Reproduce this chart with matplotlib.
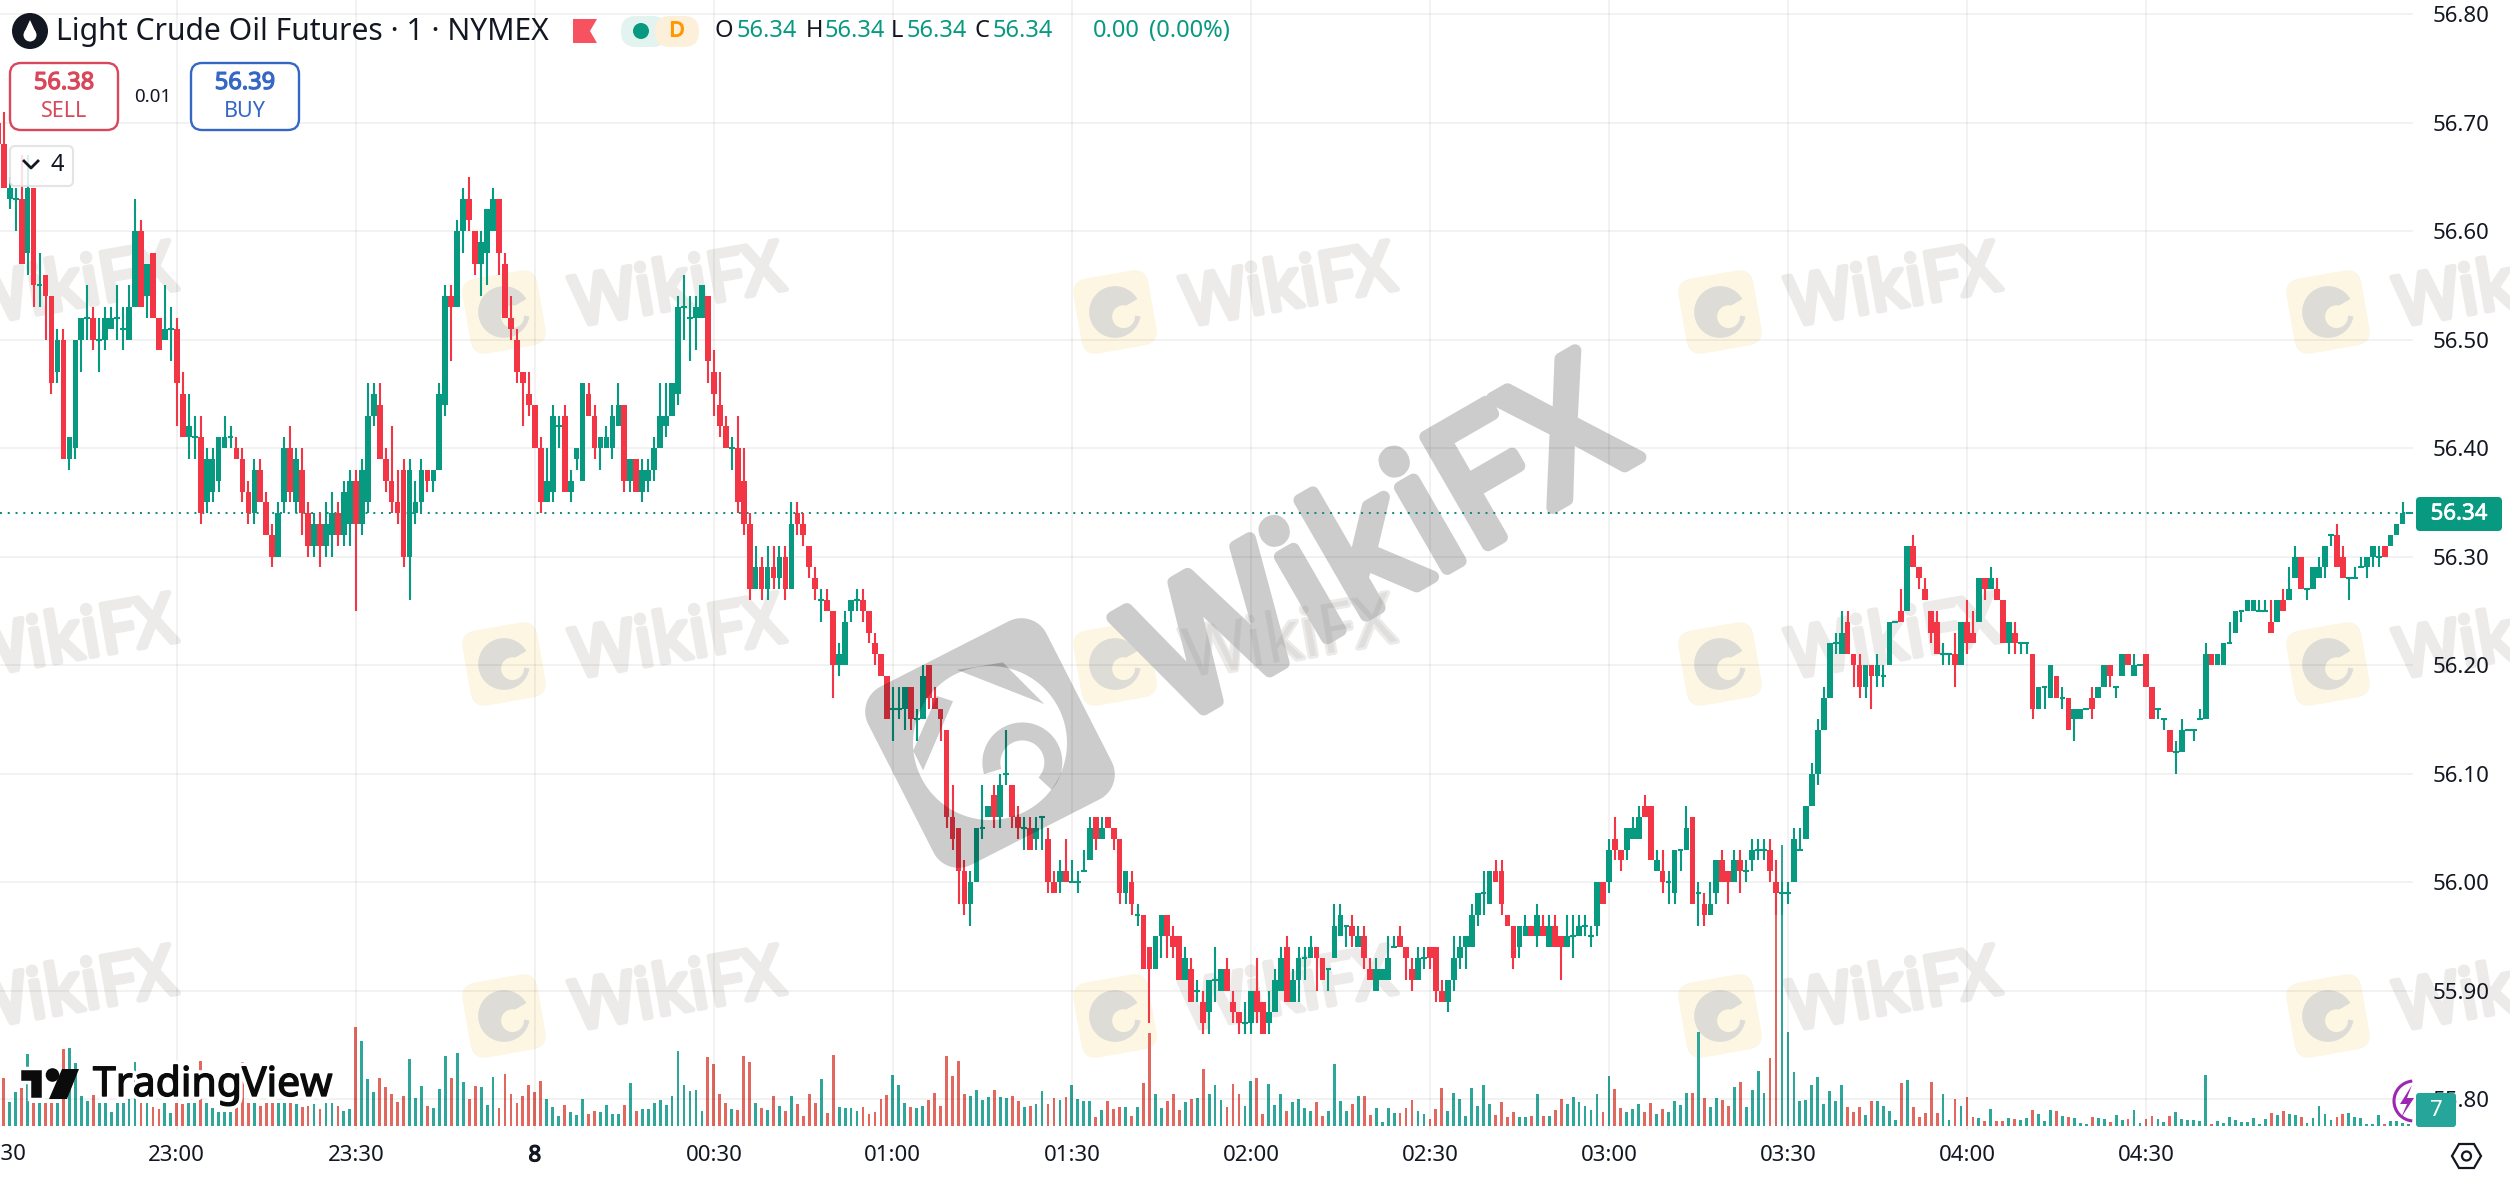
import matplotlib
matplotlib.use("Agg")
import matplotlib.pyplot as plt
import matplotlib.patheffects as pe
import numpy as np
from matplotlib.patches import Circle, FancyBboxPatch, PathPatch, Polygon, Wedge, Arc
from matplotlib.path import Path
from matplotlib.transforms import Affine2D

plt.rcParams["font.family"] = ["Noto Sans", "DejaVu Sans"]

# prices are cents above 55.00, one candle per minute from 22:30
opens = [
    170, 168, 163, 163, 163, 158, 164, 155, 156, 154, 147, 150, 139, 140, 150, 152, 152, 150, 150, 151,
    152, 151, 150, 153, 160, 154, 158, 152, 150, 151, 151, 145, 141, 141, 141, 135, 136, 137, 140, 141,
    140, 139, 136, 134, 138, 135, 132, 130, 135, 140, 135, 138, 134, 131, 133, 131, 132, 134, 132, 133,
    137, 133, 135, 143, 144, 139, 137, 135, 138, 130, 134, 135, 138, 137, 138, 144, 154, 153, 160, 163,
    160, 157, 158, 160, 163, 157, 152, 150, 147, 145, 144, 140, 135, 136, 142, 143, 136, 139, 137, 145,
    143, 140, 140, 140, 142, 144, 137, 139, 136, 137, 138, 140, 142, 143, 145, 153, 152, 152, 152, 154,
    147, 144, 142, 140, 140, 137, 133, 127, 129, 127, 129, 128, 130, 127, 134, 133, 131, 128, 126, 126,
    125, 120, 120, 125, 126, 126, 125, 122, 121, 119, 116, 116, 116, 118, 115, 115, 120, 117, 116, 114,
    106, 105, 101, 98, 100, 105, 106, 108, 106, 110, 109, 106, 105, 105, 104, 106, 104, 100, 100, 101,
    100, 100, 101, 102, 106, 104, 106, 105, 104, 99, 100, 97, 97, 94, 92, 95, 97, 95, 95, 91,
    92, 90, 89, 88, 91, 90, 92, 89, 88, 87, 87, 90, 89, 87, 88, 90, 94, 89, 91, 93,
    93, 94, 93, 92, 93, 95, 96, 96, 94, 95, 92, 90, 91, 91, 94, 95, 94, 92, 91, 93,
    94, 94, 90, 89, 91, 93, 94, 94, 97, 99, 98, 101, 101, 97, 96, 94, 95, 96, 95, 96,
    94, 96, 95, 94, 95, 95, 96, 95, 96, 100, 100, 104, 103, 103, 104, 104, 107, 107, 101, 101,
    100, 99, 103, 103, 106, 99, 98, 97, 99, 102, 101, 100, 102, 101, 102, 103, 103, 103, 100, 99,
    99, 100, 103, 104, 107, 110, 114, 117, 122, 121, 124, 121, 120, 118, 120, 119, 119, 120, 124, 125,
    125, 131, 129, 127, 125, 124, 121, 121, 121, 120, 124, 123, 124, 128, 127, 127, 126, 122, 123, 122,
    122, 121, 116, 118, 117, 119, 117, 117, 115, 115, 116, 117, 117, 118, 120, 118, 119, 121, 119, 120,
    121, 118, 116, 115, 114, 112, 112, 114, 114, 115, 115, 121, 120, 120, 122, 123, 125, 125, 125, 125,
    125, 124, 124, 126, 126, 128, 130, 127, 127, 128, 129, 132, 132, 130, 128, 128, 129, 129, 130, 130,
    131, 131, 132, 133, 134,
]
highs = [
    170, 171, 165, 164, 167, 167, 164, 158, 156, 154, 151, 151, 141, 150, 152, 155, 153, 152, 153, 153,
    155, 153, 155, 163, 161, 157, 158, 152, 155, 153, 152, 147, 145, 143, 143, 140, 140, 141, 143, 142,
    141, 140, 137, 139, 139, 136, 133, 135, 141, 142, 140, 140, 135, 134, 134, 135, 136, 135, 137, 138,
    138, 139, 146, 146, 146, 140, 142, 138, 139, 139, 137, 139, 138, 138, 146, 155, 155, 161, 164, 165,
    160, 160, 162, 164, 163, 158, 154, 151, 147, 147, 144, 141, 140, 144, 143, 144, 138, 140, 146, 146,
    144, 141, 142, 144, 146, 144, 139, 139, 139, 139, 141, 146, 146, 146, 154, 156, 154, 154, 155, 154,
    149, 147, 143, 141, 143, 140, 134, 131, 130, 131, 131, 131, 131, 135, 135, 134, 131, 129, 127, 127,
    125, 122, 125, 126, 127, 127, 125, 123, 121, 119, 118, 118, 118, 118, 116, 120, 120, 118, 116, 114,
    109, 105, 102, 101, 105, 109, 107, 109, 110, 114, 109, 107, 106, 106, 106, 106, 105, 101, 102, 104,
    102, 101, 103, 106, 106, 106, 106, 105, 104, 101, 101, 98, 97, 94, 95, 97, 97, 96, 95, 94,
    93, 91, 90, 91, 94, 92, 93, 90, 88, 89, 90, 93, 89, 90, 92, 94, 95, 92, 94, 94,
    95, 94, 93, 92, 98, 98, 96, 97, 96, 96, 93, 93, 92, 95, 95, 96, 94, 93, 94, 94,
    94, 94, 91, 91, 95, 95, 95, 98, 99, 101, 101, 102, 102, 97, 96, 96, 97, 96, 98, 97,
    97, 97, 95, 97, 97, 97, 97, 96, 100, 100, 104, 106, 103, 105, 106, 107, 108, 107, 103, 103,
    101, 103, 103, 107, 106, 100, 99, 100, 102, 103, 101, 103, 103, 102, 104, 104, 104, 104, 102, 100,
    100, 105, 105, 107, 111, 115, 118, 122, 123, 125, 125, 121, 121, 120, 120, 121, 120, 124, 124, 127,
    131, 132, 129, 128, 125, 125, 122, 121, 123, 124, 126, 125, 128, 128, 129, 128, 126, 124, 124, 122,
    122, 121, 118, 118, 120, 119, 118, 117, 116, 116, 116, 118, 118, 120, 120, 118, 121, 121, 121, 120,
    121, 118, 116, 115, 114, 113, 115, 114, 114, 116, 122, 121, 121, 122, 124, 125, 125, 126, 126, 126,
    126, 126, 126, 127, 129, 131, 130, 127, 129, 130, 131, 132, 133, 131, 128, 129, 130, 130, 131, 131,
    131, 132, 133, 135, 134,
]
lows = [
    168, 164, 162, 160, 157, 156, 153, 153, 150, 145, 146, 139, 138, 139, 147, 150, 149, 147, 149, 151,
    150, 149, 150, 153, 153, 152, 152, 149, 150, 148, 142, 141, 139, 139, 133, 134, 135, 136, 140, 140,
    139, 135, 133, 133, 135, 132, 129, 130, 134, 135, 134, 132, 130, 130, 129, 130, 130, 131, 131, 131,
    125, 132, 134, 142, 139, 136, 134, 133, 129, 126, 133, 134, 136, 136, 138, 143, 148, 153, 158, 160,
    156, 154, 155, 160, 156, 152, 150, 146, 142, 143, 140, 134, 135, 135, 140, 136, 135, 138, 137, 143,
    139, 138, 140, 139, 142, 136, 136, 136, 135, 136, 137, 140, 141, 143, 144, 150, 148, 149, 152, 146,
    143, 141, 140, 138, 134, 132, 126, 127, 126, 126, 127, 127, 126, 127, 132, 131, 128, 126, 124, 125,
    117, 119, 120, 124, 125, 124, 122, 120, 119, 115, 113, 115, 114, 114, 113, 115, 116, 116, 113, 105,
    103, 98, 97, 96, 100, 104, 106, 105, 105, 109, 105, 104, 103, 103, 103, 103, 99, 99, 99, 100,
    100, 99, 101, 102, 103, 104, 105, 103, 98, 98, 97, 96, 92, 87, 92, 93, 93, 93, 91, 91,
    89, 89, 86, 86, 89, 90, 90, 87, 86, 86, 86, 87, 86, 86, 88, 90, 89, 89, 89, 91,
    93, 90, 91, 90, 93, 95, 94, 94, 94, 92, 91, 90, 91, 91, 94, 94, 91, 90, 91, 92,
    92, 89, 89, 88, 90, 92, 92, 94, 96, 97, 98, 100, 97, 96, 92, 93, 95, 95, 94, 95,
    94, 94, 91, 94, 93, 95, 95, 94, 95, 98, 99, 102, 101, 102, 104, 104, 106, 102, 101, 99,
    98, 98, 101, 103, 98, 96, 96, 97, 98, 100, 98, 100, 99, 100, 101, 102, 102, 100, 97, 97,
    98, 100, 103, 104, 107, 109, 114, 117, 121, 121, 121, 118, 117, 117, 116, 118, 118, 120, 124, 124,
    125, 129, 127, 126, 122, 121, 120, 120, 118, 120, 121, 122, 124, 126, 127, 126, 122, 121, 121, 121,
    121, 115, 116, 116, 117, 117, 116, 114, 113, 115, 116, 115, 117, 118, 118, 117, 119, 120, 119, 120,
    118, 115, 115, 114, 112, 110, 112, 114, 113, 115, 115, 120, 120, 120, 122, 123, 124, 125, 125, 125,
    125, 123, 124, 125, 126, 128, 127, 126, 127, 128, 128, 131, 129, 128, 126, 128, 129, 128, 129, 129,
    130, 131, 132, 133, 134,
]
closes = [
    168, 164, 164, 163, 157, 164, 155, 155, 154, 146, 150, 139, 141, 150, 152, 152, 150, 150, 152, 152,
    152, 151, 153, 160, 153, 157, 152, 149, 151, 151, 146, 141, 142, 141, 134, 139, 139, 141, 141, 141,
    139, 136, 134, 138, 135, 132, 130, 134, 140, 136, 139, 134, 131, 133, 131, 133, 134, 132, 136, 137,
    133, 138, 143, 145, 139, 137, 135, 134, 130, 138, 135, 138, 137, 138, 145, 154, 153, 160, 163, 161,
    157, 159, 162, 163, 158, 152, 151, 147, 146, 144, 140, 135, 137, 143, 142, 136, 137, 140, 146, 143,
    140, 141, 141, 143, 144, 137, 139, 136, 138, 138, 140, 143, 143, 146, 153, 153, 152, 153, 155, 148,
    145, 142, 140, 140, 135, 133, 127, 129, 127, 129, 128, 130, 127, 133, 133, 132, 129, 127, 126, 125,
    120, 121, 124, 126, 126, 125, 123, 121, 119, 115, 116, 116, 118, 115, 115, 119, 117, 116, 115, 106,
    104, 101, 98, 100, 105, 105, 107, 106, 109, 110, 106, 105, 105, 103, 105, 106, 100, 99, 101, 100,
    100, 100, 101, 105, 104, 105, 105, 104, 99, 101, 98, 97, 92, 92, 95, 97, 95, 94, 91, 93,
    89, 90, 87, 91, 91, 92, 90, 88, 87, 87, 90, 88, 86, 88, 91, 93, 89, 91, 93, 93,
    94, 93, 91, 92, 96, 97, 96, 95, 95, 93, 91, 92, 92, 93, 94, 94, 93, 91, 93, 93,
    93, 90, 89, 91, 93, 94, 95, 97, 99, 99, 101, 100, 98, 96, 93, 96, 96, 95, 97, 95,
    96, 94, 94, 95, 95, 96, 96, 95, 100, 98, 103, 103, 102, 105, 105, 106, 106, 102, 102, 100,
    100, 103, 103, 105, 98, 99, 97, 98, 102, 100, 100, 102, 101, 101, 103, 103, 103, 101, 99, 99,
    99, 104, 103, 107, 110, 114, 117, 122, 122, 123, 121, 120, 118, 120, 119, 120, 119, 124, 124, 124,
    131, 129, 128, 126, 123, 121, 121, 121, 120, 124, 122, 122, 128, 127, 128, 126, 122, 124, 122, 122,
    122, 116, 118, 118, 120, 117, 117, 114, 116, 116, 116, 116, 118, 120, 119, 118, 121, 120, 120, 120,
    118, 115, 116, 115, 112, 112, 114, 114, 114, 115, 121, 120, 121, 122, 122, 125, 125, 126, 126, 125,
    125, 123, 126, 125, 127, 130, 127, 127, 129, 129, 131, 132, 129, 128, 128, 128, 129, 130, 131, 130,
    130, 132, 133, 134, 134,
]
volumes = [
    100, 143, 73, 103, 113, 216, 68, 68, 68, 68, 68, 231, 233, 188, 90, 75, 93, 68, 68, 43,
    68, 68, 81, 192, 68, 68, 56, 51, 68, 40, 68, 66, 68, 68, 195, 68, 53, 43, 43, 43,
    68, 192, 68, 68, 60, 68, 68, 70, 68, 68, 66, 58, 60, 66, 51, 68, 68, 60, 46, 51,
    296, 255, 141, 103, 143, 116, 96, 73, 90, 201, 85, 120, 60, 55, 111, 210, 145, 220, 132, 82,
    120, 117, 63, 147, 55, 156, 96, 70, 90, 123, 102, 135, 81, 57, 30, 63, 41, 33, 81, 36,
    45, 42, 63, 36, 36, 63, 129, 45, 51, 51, 69, 78, 63, 90, 225, 123, 105, 108, 45, 207,
    186, 96, 69, 51, 48, 210, 192, 69, 54, 48, 90, 60, 45, 90, 66, 30, 96, 69, 141, 39,
    213, 56, 53, 53, 45, 57, 36, 42, 81, 93, 153, 123, 69, 57, 54, 60, 78, 99, 60, 210,
    150, 195, 96, 90, 108, 78, 87, 108, 87, 84, 90, 75, 57, 60, 66, 105, 66, 84, 78, 87,
    123, 81, 75, 75, 27, 48, 75, 51, 57, 57, 30, 57, 129, 278, 96, 54, 75, 96, 48, 72,
    81, 84, 171, 96, 123, 78, 57, 126, 96, 60, 135, 144, 36, 126, 63, 96, 45, 72, 81, 54,
    45, 72, 30, 45, 186, 75, 45, 66, 90, 90, 33, 54, 12, 54, 39, 39, 54, 78, 45, 36,
    21, 51, 114, 45, 99, 81, 30, 114, 60, 123, 66, 33, 72, 27, 42, 27, 27, 30, 96, 30,
    30, 48, 81, 66, 87, 72, 60, 48, 96, 42, 150, 111, 54, 42, 51, 66, 42, 69, 36, 51,
    42, 75, 63, 99, 99, 281, 84, 57, 84, 78, 60, 117, 132, 57, 108, 165, 99, 204, 633, 843,
    282, 162, 75, 78, 123, 147, 66, 105, 75, 123, 57, 42, 57, 33, 75, 75, 60, 45, 18, 129,
    138, 57, 27, 39, 132, 39, 96, 18, 81, 60, 87, 27, 24, 15, 51, 15, 15, 24, 21, 18,
    24, 48, 36, 15, 48, 45, 30, 27, 24, 9, 6, 27, 24, 21, 12, 33, 18, 21, 48, 9,
    21, 30, 21, 12, 30, 42, 21, 18, 18, 15, 153, 6, 15, 9, 27, 18, 12, 12, 24, 6,
    21, 39, 33, 45, 36, 33, 27, 9, 24, 60, 36, 18, 27, 36, 39, 27, 24, 6, 6, 33,
    6, 15, 15, 8, 6,
]
time_ticks = [30, 60, 90, 120, 150, 180, 210, 240, 270, 300, 330, 360]
time_labels = ["23:00", "23:30", "8", "00:30", "01:00", "01:30", "02:00", "02:30", "03:00", "03:30", "04:00", "04:30"]
price_ticks = [55.80, 55.90, 56.00, 56.10, 56.20, 56.30, 56.40, 56.50, 56.60, 56.70, 56.80]
last_price = 56.34

n = min(len(opens), len(highs), len(lows), len(closes), len(volumes))

GREEN = "#089981"
RED = "#F23645"
TXT = "#131722"
W, H = 2510, 1183
PANE_W, PANE_H = 2413, 1130

fig = plt.figure(figsize=(W / 100, H / 100), dpi=100, facecolor="white")
vol = fig.add_axes([0, 1 - PANE_H / H, PANE_W / W, PANE_H / H])
ax = fig.add_axes([0, 1 - PANE_H / H, PANE_W / W, PANE_H / H], sharex=vol)
ax.patch.set_visible(False)
ui = fig.add_axes([0, 0, 1, 1])
ui.set_xlim(0, W)
ui.set_ylim(H, 0)
ui.axis("off")
ui.patch.set_visible(False)

idx = list(range(n))
o = [55 + v / 100 for v in opens[:n]]
h = [55 + v / 100 for v in highs[:n]]
l = [55 + v / 100 for v in lows[:n]]
c = [55 + v / 100 for v in closes[:n]]
is_up = [c[i] >= o[i] for i in idx]
cols = [GREEN if u else RED for u in is_up]

vol.set_xlim(0.37, 404.75)
vol.set_ylim(-12, 3378)
vol.bar(idx, volumes[:n], width=0.47, color=["#2ea69a" if u else "#e2685f" for u in is_up], zorder=3)
vol.set_yticks([])
vol.set_xticks(time_ticks)
vol.set_xticklabels(time_labels)
vol.tick_params(axis="x", length=0, pad=11, labelsize=16, labelcolor=TXT)
vol.get_xticklabels()[2].set_path_effects([pe.withStroke(linewidth=0.9, foreground=TXT)])
for s in vol.spines.values():
    s.set_visible(False)

ax.set_ylim(55.7716, 56.813)
ax.yaxis.tick_right()
ax.set_yticks(price_ticks)
ax.set_yticklabels(["%.2f" % p for p in price_ticks])
ax.tick_params(axis="y", length=0, pad=14, labelsize=16, labelcolor=TXT)
ax.tick_params(axis="x", bottom=False, labelbottom=False)
# black with low alpha so the lines stay faint over the grey watermark too
ax.grid(axis="both", color="black", alpha=0.05, lw=1.4, zorder=0)
ax.set_axisbelow(True)
for s in ax.spines.values():
    s.set_visible(False)

ax.axhline(last_price, color="#0a8a75", lw=1.4, ls=(0, (1, 3)), zorder=2)
ax.vlines(idx, l, h, colors=cols, lw=1.5, zorder=3)
for i in idx:
    if o[i] == c[i]:
        ax.hlines(o[i], i - 0.48, i + 0.48, colors=cols[i], lw=1.5, zorder=4)
    else:
        ax.bar(i, abs(c[i] - o[i]), bottom=min(o[i], c[i]), width=0.96, color=cols[i], zorder=4)


def small_logo(cx, cy, size, angle):
    tr = Affine2D().rotate_deg_around(cx, cy, -angle) + ui.transData
    vol.add_patch(FancyBboxPatch((cx - size * 0.38, cy - size * 0.38), size * 0.76, size * 0.76,
                                 boxstyle="round,pad=%f,rounding_size=%f" % (size * 0.12, size * 0.2),
                                 fc="#fdf6e3", ec="none", transform=tr, zorder=1, clip_on=False))
    vol.add_patch(Wedge((cx, cy), size * 0.34, 20, 340, fc="#dedcd7", ec="none", transform=tr, zorder=1.1, clip_on=False))
    vol.add_patch(Wedge((cx + size * 0.1, cy + size * 0.08), size * 0.15, 0, 360, fc="#fdf6e3", ec="none", transform=tr, zorder=1.2, clip_on=False))


def big_logo(cx, cy, half, corner, radius, angle):
    # rounded square with a round hole, so the candles stay clean inside the hole
    pts = []
    for sx, sy, start in [(1, 1, 0), (-1, 1, 90), (-1, -1, 180), (1, -1, 270)]:
        t = np.radians(np.linspace(start, start + 90, 14))
        pts += list(zip(cx + sx * (half - corner) + corner * np.cos(t), cy + sy * (half - corner) + corner * np.sin(t)))
    t = np.radians(np.linspace(360, 0, 120))
    hole = list(zip(cx + radius * np.cos(t), cy + radius * np.sin(t)))
    verts = pts + [pts[0]] + hole + [hole[0]]
    codes = [Path.MOVETO] + [Path.LINETO] * (len(pts) - 1) + [Path.CLOSEPOLY]
    codes += [Path.MOVETO] + [Path.LINETO] * (len(hole) - 1) + [Path.CLOSEPOLY]
    tr = Affine2D().rotate_deg_around(cx, cy, -angle) + ui.transData
    grey = dict(fc="black", ec="none", alpha=0.2, transform=tr, zorder=6)
    ui.add_patch(PathPatch(Path(verts, codes), **grey))
    # eagle and aperture parts inside the hole
    s = half * 2
    ui.add_patch(Polygon([(cx + s * 0.02, cy - s * 0.40), (cx + s * 0.24, cy - s * 0.33), (cx + s * 0.33, cy - s * 0.05)], **grey))
    ui.add_patch(Wedge((cx + s * 0.1, cy + s * 0.16), s * 0.2, -170, 70, width=s * 0.09, **grey))
    ui.add_patch(Polygon([(cx - s * 0.36, cy - s * 0.14), (cx - s * 0.13, cy - s * 0.33), (cx - s * 0.07, cy - s * 0.27), (cx - s * 0.36, cy - s * 0.03)], **grey))


small_stroke = [pe.Stroke(linewidth=3.8, foreground="#ecebe9", joinstyle="round", capstyle="round"), pe.Normal()]
big_stroke = [pe.Stroke(linewidth=9, foreground="#cccccc", joinstyle="round", capstyle="round"), pe.Normal()]

# repeated small watermarks
for wy in [312, 664, 1016]:
    for wx in [-104, 504, 1115, 1720, 2328]:
        small_logo(wx, wy, 76, 10)
        vol.text(wx + 174, wy - 22, "WikiFX", fontsize=50, color="#ecebe9", rotation=10, ha="center", va="center",
                 rotation_mode="anchor", transform=ui.transData, zorder=1, path_effects=small_stroke)

# big watermark
vol.text(1384, 552, "WikiFX", fontsize=126, color="#cccccc", rotation=30, ha="center", va="center",
         rotation_mode="anchor", transform=ui.transData, zorder=1.5, path_effects=big_stroke)
ui.text(1289, 642, "WikiFX", fontsize=50, color="black", alpha=0.06, rotation=10, ha="center", va="center",
        rotation_mode="anchor", zorder=6)
big_logo(990, 743, 100, 28, 77, 27)

# legend row
ui.add_patch(Circle((30, 31), 18, fc="#131722", ec="none", zorder=10))
ui.add_patch(Circle((30, 35), 6.5, fc="white", ec="none", zorder=11))
ui.add_patch(Polygon([(30, 20), (24.5, 32), (35.5, 32)], fc="white", ec="none", zorder=11))
ui.text(56, 32, "Light Crude Oil Futures · 1 · NYMEX", fontsize=21.7, color=TXT, va="center", zorder=10)
ui.add_patch(Polygon([(573, 19), (597, 19), (590, 31), (597, 43), (573, 43)], fc="#f7525f", ec="none", zorder=10))
ui.add_patch(FancyBboxPatch((621, 16), 46, 31, boxstyle="round,pad=0,rounding_size=15", fc="#e3f3ef", ec="none", zorder=10))
ui.add_patch(FancyBboxPatch((655, 16), 44, 31, boxstyle="round,pad=0,rounding_size=15", fc="#fdf0da", ec="none", zorder=10))
ui.add_patch(Circle((641, 31), 8, fc=GREEN, ec="none", zorder=11))
ui.text(677, 31, "D", fontsize=15, color="#ff9800", ha="center", va="center", zorder=11,
        path_effects=[pe.withStroke(linewidth=0.8, foreground="#ff9800")])

for lx, s, col in [(715, "O", TXT), (737, "56.34", GREEN), (806, "H", TXT), (825, "56.34", GREEN),
                   (891, "L", TXT), (907, "56.34", GREEN), (975, "C", TXT), (993, "56.34", GREEN),
                   (1093, "0.00", GREEN), (1149, "(0.00%)", GREEN)]:
    ui.text(lx, 31, s, fontsize=17, color=col, va="center", zorder=10)

# buy and sell boxes
for x0, col, big_txt, small_txt in [(10, "#d9475a", "56.38", "SELL"), (191, "#3567c4", "56.39", "BUY")]:
    ui.add_patch(FancyBboxPatch((x0, 63), 108, 67, boxstyle="round,pad=0,rounding_size=11", fc="white", ec=col, lw=1.7, zorder=10))
    ui.text(x0 + 54, 83, big_txt, fontsize=17, color=col, ha="center", va="center", zorder=11,
            path_effects=[pe.withStroke(linewidth=0.9, foreground=col)])
    ui.text(x0 + 54, 111, small_txt, fontsize=15.5, color=col, ha="center", va="center", zorder=11)
ui.text(153, 97, "0.01", fontsize=13.5, color=TXT, ha="center", va="center", zorder=11)

ui.add_patch(FancyBboxPatch((10, 146), 63, 40, boxstyle="round,pad=0,rounding_size=5", fc="white", ec="#dfe0e2", lw=1.5, alpha=0.85, zorder=10))
ui.plot([24, 31, 38], [161, 168, 161], color=TXT, lw=2, zorder=11)
ui.text(57, 165, "4", fontsize=17, color=TXT, ha="center", va="center", zorder=11)

# last price, volume badge, icons
ui.add_patch(FancyBboxPatch((2416, 497), 86, 34, boxstyle="round,pad=0,rounding_size=4", fc=GREEN, ec="none", zorder=10))
ui.text(2459, 514, "56.34", fontsize=16, color="white", ha="center", va="center", zorder=11,
        path_effects=[pe.withStroke(linewidth=0.5, foreground="white")])
ui.add_patch(Arc((2414, 1101), 40, 40, theta1=95, theta2=265, ec="#9c27b0", lw=2.2, zorder=10))
ui.add_patch(Polygon([(2412, 1085), (2400, 1104), (2407, 1104), (2401, 1118), (2414, 1098), (2407, 1098)], fc="#9c27b0", ec="none", zorder=10))
ui.add_patch(FancyBboxPatch((2416, 1093), 40, 34, boxstyle="round,pad=0,rounding_size=3", fc="#26a69a", ec="none", zorder=11))
ui.text(2436, 1110, "7", fontsize=16, color="white", ha="center", va="center", zorder=12)
ui.add_patch(Polygon([(2452, 1156), (2459, 1144), (2474, 1144), (2481, 1156), (2474, 1168), (2459, 1168)],
                     fc="white", ec=TXT, lw=1.6, zorder=10))
ui.add_patch(Circle((2466.5, 1156), 4.5, fc="white", ec=TXT, lw=1.6, zorder=11))
ui.text(-2, 1155, "22:30", fontsize=16, color=TXT, ha="center", va="center", zorder=10)

# TradingView logo
halo = [pe.Stroke(linewidth=6, foreground="white"), pe.Stroke(linewidth=1.0, foreground="#0b0b0b"), pe.Normal()]
ui.add_patch(Polygon([(19, 1068), (43, 1068), (43, 1099), (29, 1099), (29, 1082), (19, 1082)], fc="#0b0b0b", ec="white", lw=2.5, zorder=10))
ui.add_patch(Circle((52.5, 1075), 6.8, fc="#0b0b0b", ec="none", zorder=10))
ui.add_patch(Polygon([(62, 1069), (79, 1069), (67, 1099), (49, 1099)], fc="#0b0b0b", ec="none", zorder=10))
ui.text(93, 1085, "TradingView", fontsize=29.5, color="#0b0b0b", va="center", zorder=10, path_effects=halo)

fig.savefig("out.png", dpi=100, facecolor="white")
